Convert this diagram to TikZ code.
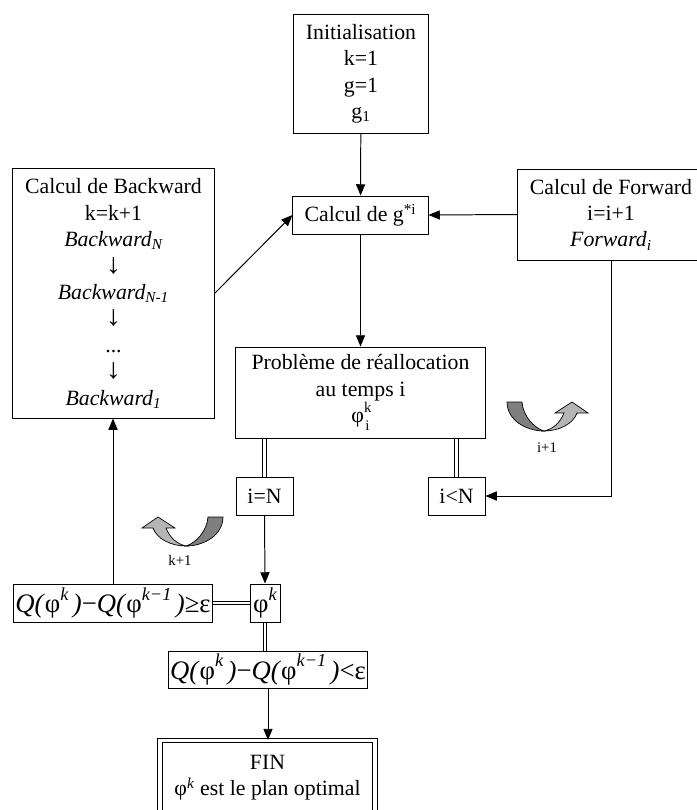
\documentclass[tikz,border=0pt]{standalone}
\usepackage{fontspec}
\setmainfont{Liberation Serif}
\usetikzlibrary{arrows.meta, positioning}
\definecolor{cdark}{HTML}{7F7F7F}
\definecolor{clight}{HTML}{B5B5B5}
\newcommand{\bodyfont}{\fontsize{15.5}{18.8}\selectfont}
\newcommand{\smalltxt}{\fontsize{10.5}{12}\selectfont}
\newcommand{\expo}[1]{\raisebox{0.48em}{\fontsize{13}{13}\selectfont\itshape #1}}
\newcommand{\down}{\scalebox{1.4}[1.3]{↓}}
% Q(phi^k) - Q(phi^{k-1}), then the relation given as #1
\newcommand{\crit}[1]{{\fontsize{19}{20}\selectfont\textit{Q(}φ\expo{k}\,\textit{)}−\textit{Q(}φ\expo{k−1}\,\textit{)}#1ε}}
\tikzset{
  every picture/.style={line width=0.7pt},
  box/.style={draw, align=center, inner sep=0pt, font=\bodyfont},
  arrow/.style={-{Triangle[length=8pt, width=6.5pt]}},
  note/.style={font=\smalltxt},
}

\begin{document}
\begin{tikzpicture}[x=0.025cm, y=-0.025cm]
  % \uturn{x}{y}{xscale}: grey curled arrow, top left corner at (x,y)
  \newcommand{\uturn}[3]{
    \begin{scope}[shift={(#1,#2)}, xscale=#3, line width=0.5pt]
      \filldraw[fill=cdark] (0,0) -- (15,0) .. controls (16,14) and (27,26) .. (37,29) .. controls (19,29) and (0,18) .. cycle;
      \filldraw[fill=clight] (37,29) .. controls (46,27) and (53,21) .. (57,11) -- (48,11) -- (65,0) -- (81,11) -- (70,11) .. controls (66,22) and (52,29) .. cycle;
    \end{scope}}
  % \twin{from}{to}{x or y}: double connector, two thin parallel lines
  \newcommand{\twin}[3]{
    \foreach \s in {-1.2pt,1.2pt} \draw[transform canvas={#3shift=\s}, line width=0.6pt] (#1) -- (#2);}
  \useasboundingbox (0,0) rectangle (697,810);

  \node[box, minimum width=3.35cm, minimum height=2.95cm] (init) at (361,74) {Initialisation\\k=1\\g=1\\g\textsubscript{1}};
  \node[box, minimum width=3.375cm, minimum height=0.95cm] (calcg) at (360.5,215) {Calcul de g\textsuperscript{*i}};
  \node[box, minimum width=5.025cm, minimum height=6.225cm] (backw) at (113.5,293.5)
    {Calcul de Backward\\k=k+1\\\textit{Backward\textsubscript{N}}\\\down\\\textit{Backward\textsubscript{N-1}}\\\down\\...\\\down\\\textit{Backward\textsubscript{1}}};
  \node[box, minimum width=4.65cm, minimum height=2.275cm] (forw) at (611,214.5) {Calcul de Forward\\i=i+1\\\textit{Forward\textsubscript{i}}};
  \node[box, minimum width=6.225cm, minimum height=2.275cm] (realloc) at (360.5,392.5)
    {Problème de réallocation\\au temps i\\φ\rlap{\raisebox{0.45em}{\smalltxt k}}\raisebox{-0.35em}{\smalltxt\kern1pt i}};
  \node[box, minimum width=1.425cm, minimum height=0.95cm] (ieqN) at (264.5,496) {i=N};
  \node[box, minimum width=1.425cm, minimum height=0.95cm] (iltN) at (456.5,496) {i<N};
  \node[box, minimum width=4.95cm, minimum height=0.95cm] (geqeps) at (113,603) {\crit{≥}};
  \node[box, minimum width=0.75cm, minimum height=0.95cm] (phik) at (265,603) {{\fontsize{19}{20}\selectfont φ\expo{k}}};
  \node[box, minimum width=4.95cm, minimum height=0.925cm] (lteps) at (268,669.5) {\crit{<}};
  \node[box, double, double distance=2.2pt, line width=0.8pt, minimum width=5.375cm, anchor=north,
        inner ysep=0.36cm, text depth=2.5cm] (fin) at (267.5,740) {FIN\\φ\textsuperscript{\textit{k}} est le plan optimal};

  \draw[arrow] (init) -- (calcg);
  \draw[arrow] (forw.west) -- (calcg.east);
  \draw[arrow] (backw.east) -- (calcg.west);
  \draw[arrow] (calcg) -- (realloc);
  \twin{ieqN.north}{realloc.south -| ieqN.north}{x}
  \twin{iltN.north}{realloc.south -| iltN.north}{x}
  \draw[arrow] (forw.south) |- (iltN.east);
  \draw[arrow] (ieqN.south) -- (phik.north);
  \twin{geqeps.east}{phik.west}{y}
  \draw[arrow] (geqeps.north) -- (geqeps.north |- backw.south);
  \twin{phik.south}{phik.south |- lteps.north}{x}
  \draw[arrow] (lteps.south) -- (lteps.south |- fin.north);

  \uturn{507}{402}{1}
  \node[note] (inext) at (547,448) {i+1};
  \uturn{223}{517}{-1}
  \node[note] (knext) at (180,560) {k+1};
\end{tikzpicture}
\end{document}
